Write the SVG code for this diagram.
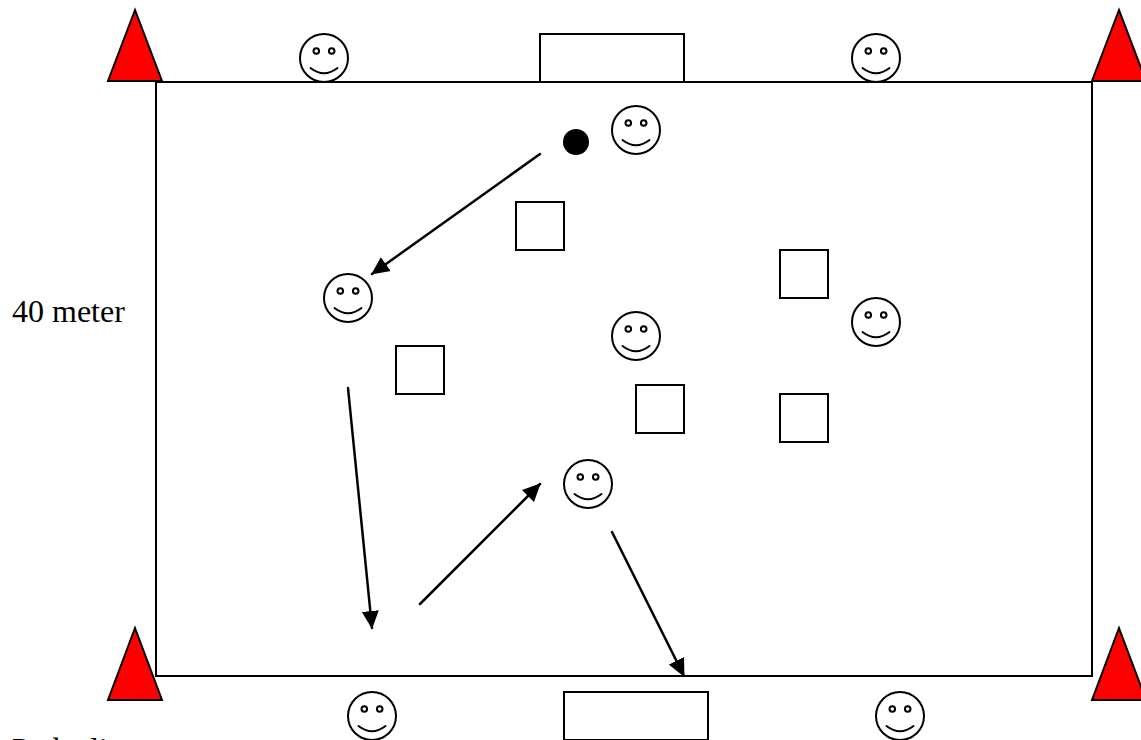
<svg xmlns="http://www.w3.org/2000/svg" width="1141" height="740" viewBox="0 0 1141 740">
<style>
text{font-family:"Liberation Serif","Times New Roman",serif;font-size:32px;fill:#000}
.l{fill:none;stroke:#000;stroke-width:2}
.w{fill:#fff;stroke:#000;stroke-width:2}
.c{fill:#f00;stroke:#000;stroke-width:2;stroke-linejoin:miter}
.a{fill:none;stroke:#000;stroke-width:2.5;stroke-linecap:round;marker-end:url(#ah)}
</style>
<defs>
<marker id="ah" markerUnits="userSpaceOnUse" markerWidth="18" markerHeight="18" refX="17" refY="9" orient="auto"><path d="M0 0.500L18 9L0 17.500Z" fill="#000"/></marker>
<g id="s"><circle r="24" class="w"/><circle cx="-7.700" cy="-7" r="2.800" class="l"/><circle cx="7.700" cy="-7" r="2.800" class="l"/><path d="M-13.500 10Q0 20.500 13.500 10" stroke-linecap="round" class="l"/></g>
</defs>
<rect id="field" x="156" y="82" width="936" height="594" class="l"/>
<g id="cone-tl"><path d="M135 10L108 81H162Z" class="c"/></g>
<g id="cone-tr"><path d="M1119 10L1092 81H1146Z" class="c"/></g>
<g id="cone-bl"><path d="M135 628L108 700H162Z" class="c"/></g>
<g id="cone-br"><path d="M1119 628L1092 700H1146Z" class="c"/></g>
<g id="goal-top"><rect x="540" y="34" width="144" height="48" class="l"/></g>
<g id="goal-bottom"><rect x="564" y="692" width="144" height="48" class="l"/></g>
<g id="p1"><use href="#s" x="324" y="58"/></g>
<g id="p2"><use href="#s" x="876" y="58"/></g>
<g id="p3"><use href="#s" x="636" y="130"/></g>
<g id="p4"><use href="#s" x="348" y="298"/></g>
<g id="p5"><use href="#s" x="636" y="336"/></g>
<g id="p6"><use href="#s" x="876" y="322"/></g>
<g id="p7"><use href="#s" x="588" y="484"/></g>
<g id="p8"><use href="#s" x="372" y="716"/></g>
<g id="p9"><use href="#s" x="900" y="716"/></g>
<g id="ball"><circle cx="576" cy="142" r="13" fill="#000"/></g>
<g id="sq1"><rect x="516" y="202" width="48" height="48" class="l"/></g>
<g id="sq2"><rect x="780" y="250" width="48" height="48" class="l"/></g>
<g id="sq3"><rect x="396" y="346" width="48" height="48" class="l"/></g>
<g id="sq4"><rect x="636" y="385" width="48" height="48" class="l"/></g>
<g id="sq5"><rect x="780" y="394" width="48" height="48" class="l"/></g>
<g id="connectors">
<path d="M540 154L372 274" class="a"/>
<path d="M348 388L372 628" class="a"/>
<path d="M420 604L540 484" class="a"/>
<path d="M612 532L684 676" class="a"/>
</g>
<text x="12" y="760">Pedoeli</text>
<text x="12" y="322">40 meter</text>
</svg>
